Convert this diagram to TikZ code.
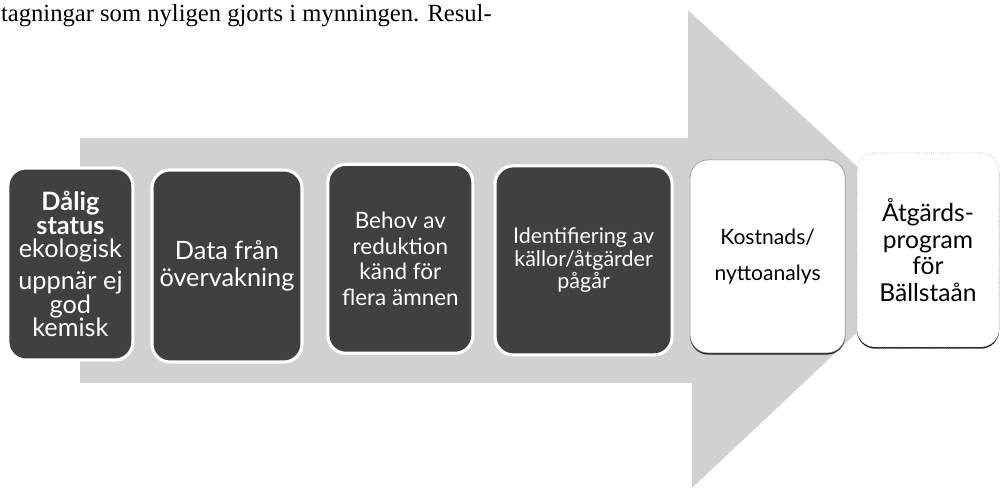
\documentclass[tikz,border=0pt]{standalone}
\usepackage{fontspec}
\setmainfont{Liberation Serif}
\newfontfamily\boxfont{Lato}
\usetikzlibrary{shadows}

\begin{document}
\begin{tikzpicture}[
  darkbox/.style={draw=white,line width=2.2pt,rounded corners=0.45cm,fill=black!75,text=white,align=center,inner sep=1pt},
  lightbox/.style={fill=white,rounded corners=0.45cm,align=center,inner sep=1pt,
    drop shadow={shadow xshift=0pt,shadow yshift=-1.2pt,fill=black!85,opacity=1}}]
\useasboundingbox (0,0) rectangle (25.05,12.25);
% page text above the figure
\node[anchor=base west,inner sep=0pt,font=\fontsize{17.5}{19}\selectfont] (pagetext) at (0.02,11.72) {tagningar som nyligen gjorts i mynningen. Resul-};
% the big arrow
\fill[black!18] (2.0,8.8) -- (17.2,8.8) -- (17.2,12.0) -- (23.65,6.03) -- (17.3,0.05) -- (17.3,2.675) -- (2.0,2.675) -- cycle;
% steps
\node[darkbox,minimum width=3.125cm,minimum height=4.8cm,font=\boxfont\fontsize{18}{16.8}\selectfont] (status) at (1.76,5.65) {\textbf{Dålig}\\\textbf{status}\\ekologisk\\[0.2cm]uppnär ej\\god\\kemisk};
\node[darkbox,minimum width=3.75cm,minimum height=4.8cm,font=\boxfont\fontsize{18}{19}\selectfont] (data) at (5.675,5.6) {Data från\\övervakning};
\node[darkbox,minimum width=3.625cm,minimum height=4.725cm,font=\boxfont\fontsize{16}{18.2}\selectfont] (behov) at (10.01,5.78) {Behov av\\reduktion\\känd för\\flera ämnen};
\node[darkbox,minimum width=4.425cm,minimum height=4.725cm,font=\boxfont\fontsize{15.3}{16}\selectfont] (ident) at (14.59,5.74) {Identifiering av\\källor/åtgärder\\pågår};
\node[lightbox,draw=black!45,minimum width=3.875cm,minimum height=4.825cm,font=\boxfont\fontsize{15}{18}\selectfont] (kostnad) at (19.19,5.84) {Kostnads/\\[0.25cm]nyttoanalys};
\node[lightbox,draw=black!35,densely dotted,minimum width=3.55cm,minimum height=4.85cm,font=\boxfont\fontsize{17.5}{19}\selectfont] (program) at (23.2,6.0) {Åtgärds-\\program\\för\\Bällstaån};
\end{tikzpicture}
\end{document}
